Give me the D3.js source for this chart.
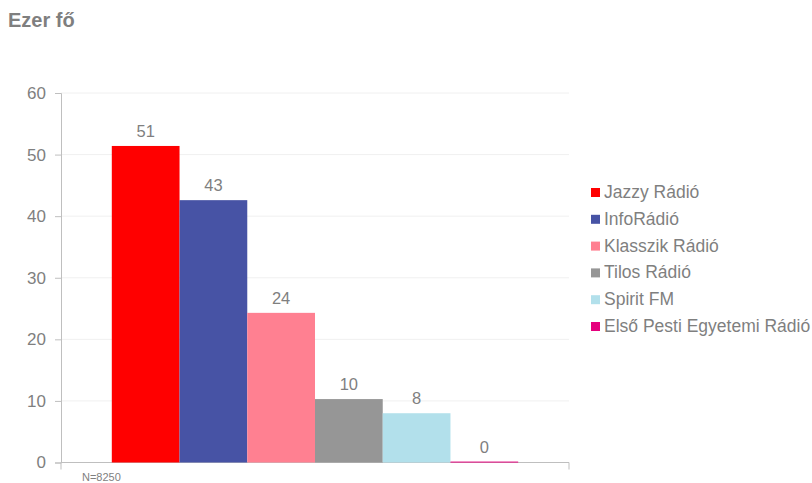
<!DOCTYPE html>
<html>
<head>
<meta charset="utf-8">
<script src="https://cdn.jsdelivr.net/npm/d3@7/dist/d3.min.js"></script>
<style>
  html, body { margin: 0; padding: 0; background: #fff; }
  text { font-family: "Liberation Sans", Arial, sans-serif; }
</style>
</head>
<body>
<svg id="chart" width="812" height="483"></svg>
<script>
const categories = [""];
const seriesNames = ["Jazzy Rádió", "InfoRádió", "Klasszik Rádió", "Tilos Rádió", "Spirit FM", "Első Pesti Egyetemi Rádió"];
const seriesValues = [51.4, 42.6, 24.3, 10.3, 8.0, 0.15];
const valueLabels = ["51", "43", "24", "10", "8", "0"];
const seriesColors = ["#ff0000", "#4753a5", "#ff8091", "#969696", "#b2e0eb", "#e5007d"];
const yTicks = [0, 10, 20, 30, 40, 50, 60];
const titleText = "Ezer fő";
const noteText = "N=8250";

const svg = d3.select("#chart");
const plotLeft = 61, plotRight = 569, plotTop = 93, plotBottom = 462.5;
const textColor = "#7f7f7f";

const y = d3.scaleLinear().domain([0, 60]).range([plotBottom, plotTop]);
const x0 = d3.scaleBand().domain(categories).range([plotLeft, plotRight]).paddingInner(0).paddingOuter(0.125);
const x1 = d3.scaleBand().domain(seriesNames).range([0, x0.bandwidth()]).padding(0);

// gridlines
svg.append("g").selectAll("line").data(yTicks.filter(d => d > 0)).join("line")
  .attr("x1", plotLeft).attr("x2", plotRight)
  .attr("y1", d => y(d)).attr("y2", d => y(d))
  .attr("stroke", "#f0f0f0").attr("stroke-width", 1);

// y axis
const yAxis = svg.append("g").attr("transform", `translate(${plotLeft},0)`)
  .call(d3.axisLeft(y).tickValues(yTicks).tickSize(6).tickPadding(9).tickFormat(d3.format("d")));
yAxis.select(".domain").attr("stroke", "#bfbfbf");
yAxis.selectAll(".tick line").attr("stroke", "#bfbfbf");
yAxis.selectAll(".tick text").attr("fill", textColor).style("font-size", "17px")
  .style("font-family", '"Liberation Sans", Arial, sans-serif');

// x axis
const xAxis = svg.append("g").attr("transform", `translate(0,${plotBottom})`)
  .call(d3.axisBottom(x0).tickSize(0).tickFormat(""));
xAxis.select(".domain").attr("stroke", "#bfbfbf").attr("d", `M${plotLeft},0H${plotRight}`);
xAxis.selectAll(".tick").remove();
svg.append("g").selectAll("line").data([plotLeft, plotRight]).join("line")
  .attr("x1", d => d).attr("x2", d => d)
  .attr("y1", plotBottom).attr("y2", plotBottom + 7)
  .attr("stroke", "#bfbfbf");

// bars
const data = seriesNames.map((n, i) => ({ name: n, value: seriesValues[i], label: valueLabels[i], color: seriesColors[i] }));
const g = svg.append("g").attr("transform", `translate(${x0(categories[0])},0)`);
g.selectAll("rect").data(data).join("rect")
  .attr("x", d => x1(d.name))
  .attr("width", x1.bandwidth())
  .attr("y", d => y(d.value))
  .attr("height", d => Math.max(1, y(0) - y(d.value)))
  .attr("fill", d => d.color);
g.selectAll("text").data(data).join("text")
  .attr("x", d => x1(d.name) + x1.bandwidth() / 2)
  .attr("y", d => y(d.value) - 9)
  .attr("text-anchor", "middle")
  .attr("fill", textColor)
  .style("font-size", "16.5px")
  .text(d => d.label);

// legend
const legend = svg.append("g").attr("transform", "translate(591,188)");
const rowH = 26.8;
const items = legend.selectAll("g").data(data).join("g")
  .attr("transform", (d, i) => `translate(0,${i * rowH})`);
items.append("rect").attr("x", 0).attr("y", 0).attr("width", 9).attr("height", 9).attr("fill", d => d.color);
items.append("text").attr("x", 13).attr("y", 10)
  .attr("fill", textColor).style("font-size", "17.5px").text(d => d.name);

// title
svg.append("text").attr("x", 8).attr("y", 27).attr("fill", textColor)
  .style("font-size", "20px").style("font-weight", "bold").text(titleText);

// note
svg.append("text").attr("x", 82).attr("y", 481).attr("fill", textColor)
  .style("font-size", "11px").text(noteText);
</script>
</body>
</html>
